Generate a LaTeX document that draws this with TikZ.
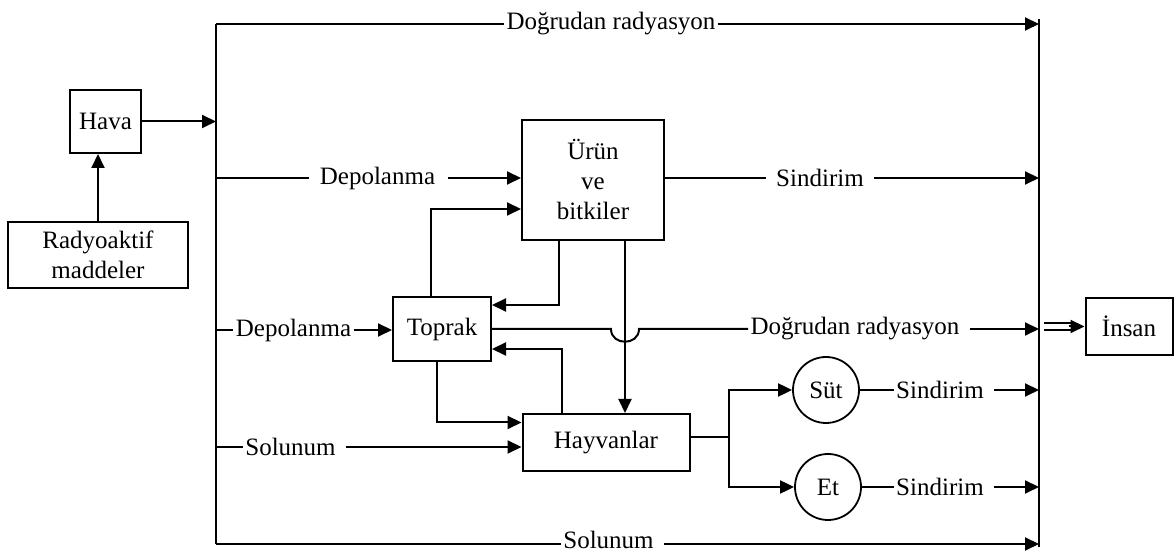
\documentclass[tikz,border=0pt]{standalone}
\usepackage{fontspec}
\setmainfont{Liberation Serif}
\usetikzlibrary{arrows.meta, positioning, calc}

\begin{document}
\begin{tikzpicture}[
    x=0.5pt, y=-0.5pt,
    font=\fontsize{12.5}{15}\selectfont,
    box/.style={draw, line width=1pt, align=center, inner sep=2pt},
    circ/.style={draw, circle, line width=0.9pt, minimum size=33pt, inner sep=0pt},
    lbl/.style={inner xsep=1pt, inner ysep=1pt},
    con/.style={line width=1pt},
    arr/.style={-{Triangle[length=7pt, width=6.5pt]}, line width=1pt},
    dline/.style={double, double distance=2.5pt, line width=0.8pt}
]
    \useasboundingbox (0,0) rectangle (1175,555);

    % Bus lines
    \coordinate (lt) at (216,24);
    \coordinate (lb) at (216,544);
    \coordinate (rt) at (1039,19);
    \coordinate (rb) at (1039,547);
    \draw[con] (lt) -- (lb);
    \draw[con] (rt) -- (rb);

    % Source
    \node[box, minimum width=35.5pt, minimum height=31.5pt] (hava) at (105.5,121.5) {Hava};
    \node[box, minimum width=90pt, minimum height=33pt] (radyo) at (98,255) {Radyoaktif\\maddeler};
    \draw[arr] (radyo.north) -- (radyo.north |- hava.south);
    \draw[arr] (hava) -- (hava -| lt);

    % Inner boxes
    \node[box, minimum width=71pt, minimum height=60pt] (urun) at (593,180) {\"Ur\"un\\ve\\bitkiler};
    \node[box, minimum width=49pt, minimum height=32pt] (toprak) at (442,329) {Toprak};
    \node[box, minimum width=83.5pt, minimum height=28.5pt] (hayvan) at (606,442.5) {Hayvanlar};
    \node[circ] (sut) at (826,390) {S\"ut};
    \node[circ] (et) at (828,487) {Et};
    \node[box, minimum width=43.5pt, minimum height=28.5pt] (insan) at (1129,326.5) {İnsan};

    % Labels
    \node[lbl] (drad1) at (611,24) {Doğrudan radyasyon};
    \node[lbl] (dep1) at (377.5,178) {Depolanma};
    \node[lbl] (sin1) at (820,178) {Sindirim};
    \node[lbl] (dep2) at (293.5,330) {Depolanma};
    \node[lbl] (drad2) at (855,329) {Doğrudan radyasyon};
    \node[lbl] (sol1) at (290.5,447) {Solunum};
    \node[lbl] (sin2) at (940,390) {Sindirim};
    \node[lbl] (sin3) at (940,487) {Sindirim};
    \node[lbl] (sol2) at (608.5,540) {Solunum};

    % Top and bottom paths
    \draw[con] (lt) -- (drad1);
    \draw[arr] (drad1) -- (drad1 -| rt);
    \draw[con] (lb) -- (lb -| sol2.west);
    \draw[arr, shorten <=4pt] (lb -| sol2.east) -- (lb -| rt);

    % Storage to crops
    \draw[con, shorten >=4pt] (dep1 -| lt) -- (dep1);
    \draw[arr, shorten <=5pt] (dep1) -- (dep1 -| urun.west);
    \draw[con, shorten >=4pt] (urun.east |- sin1) -- (sin1);
    \draw[arr, shorten <=4pt] (sin1) -- (sin1 -| rt);

    % Storage to soil
    \draw[con] (dep2 -| lt) -- (dep2);
    \draw[arr] (dep2) -- (dep2 -| toprak.west);

    % Soil, crops, animals
    \coordinate (uh) at ($(urun.south)+(32,0)$);
    \draw[arr] ($(toprak.north)+(-11,0)$) |- ($(urun.west)+(0,29)$);
    \draw[arr] ($(urun.south)+(-34,0)$) |- ($(toprak.east)+(0,-24)$);
    \draw[arr] (uh) -- (uh |- hayvan.north);
    \draw[arr] ($(hayvan.north)+(-44,0)$) |- ($(toprak.east)+(0,20)$);
    \draw[arr] ($(toprak.south)+(-5,0)$) |- ($(hayvan.west)+(0,-20)$);
    \draw[con] (toprak.east) -- ($(uh |- toprak.east)+(-14,0)$)
        .. controls +(0,17) and +(0,17) .. ($(uh |- toprak.east)+(14,0)$) -- (drad2);
    \draw[arr, shorten <=4pt] (drad2) -- (drad2 -| rt);

    % Respiration
    \draw[con] (sol1 -| lt) -- (sol1);
    \draw[arr, shorten <=4pt] (sol1) -- (sol1 -| hayvan.west);

    % Milk and meat
    \draw[con] ($(hayvan.east)+(0,-5)$) -- ++(38,0) coordinate (brch);
    \draw[arr] (brch) |- (sut);
    \draw[arr] (brch) |- (et);
    \draw[con] (sut) -- (sin2);
    \draw[arr, shorten <=4pt] (sin2) -- (sin2 -| rt);
    \draw[con] (et) -- (sin3);
    \draw[arr, shorten <=4pt] (sin3) -- (sin3 -| rt);

    % Output
    \coordinate (ins) at ($(insan.west -| rt)+(5,0)$);
    \draw[dline, shorten >=5pt] (ins) -- (insan.west);
    \draw[arr] ($(insan.west)+(-16,0)$) -- (insan.west);
\end{tikzpicture}
\end{document}
